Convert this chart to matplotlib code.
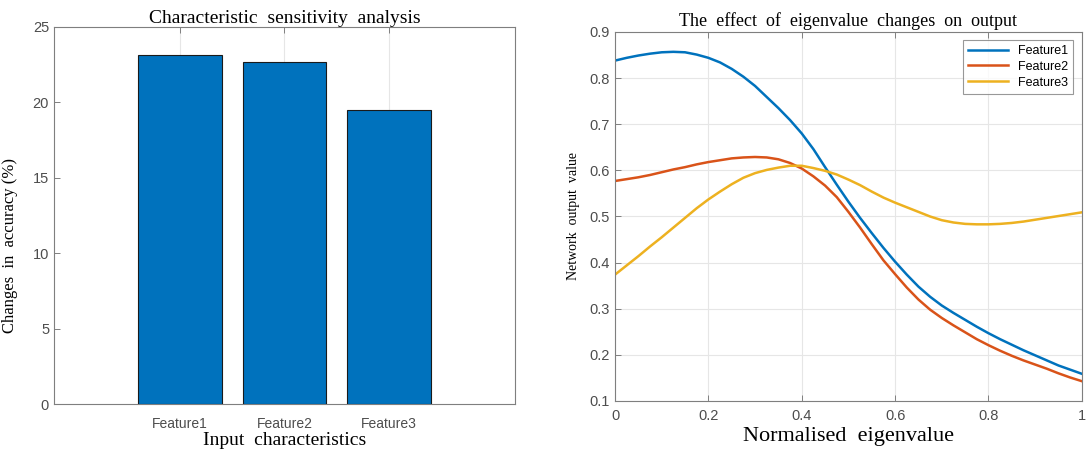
import matplotlib
matplotlib.use("Agg")
import matplotlib.pyplot as plt
import numpy as np

categories = ["Feature1", "Feature2", "Feature3"]
accuracy_change = [23.15, 22.68, 19.5]

x_vals = [0.0, 0.025, 0.05, 0.075, 0.1, 0.125, 0.15, 0.175, 0.2, 0.225, 0.25, 0.275, 0.3, 0.325,
          0.35, 0.375, 0.4, 0.425, 0.45, 0.475, 0.5, 0.525, 0.55, 0.575, 0.6, 0.625, 0.65, 0.675,
          0.7, 0.725, 0.75, 0.775, 0.8, 0.825, 0.85, 0.875, 0.9, 0.925, 0.95, 0.975, 1.0]
feature1 = [0.838, 0.844, 0.849, 0.853, 0.856, 0.857, 0.856, 0.851, 0.844, 0.834, 0.820, 0.803, 0.783, 0.759,
            0.735, 0.709, 0.680, 0.646, 0.607, 0.569, 0.532, 0.497, 0.464, 0.432, 0.402, 0.374, 0.348, 0.326,
            0.307, 0.291, 0.276, 0.261, 0.247, 0.234, 0.222, 0.210, 0.199, 0.188, 0.177, 0.168, 0.159]
feature2 = [0.577, 0.581, 0.585, 0.590, 0.596, 0.602, 0.607, 0.613, 0.618, 0.622, 0.626, 0.628, 0.629, 0.628,
            0.624, 0.616, 0.604, 0.587, 0.567, 0.542, 0.510, 0.476, 0.440, 0.405, 0.375, 0.346, 0.320, 0.298,
            0.280, 0.264, 0.249, 0.234, 0.221, 0.209, 0.198, 0.188, 0.179, 0.170, 0.160, 0.151, 0.143]
feature3 = [0.374, 0.394, 0.414, 0.435, 0.455, 0.476, 0.497, 0.518, 0.537, 0.554, 0.570, 0.584, 0.594, 0.601,
            0.606, 0.610, 0.610, 0.605, 0.599, 0.591, 0.580, 0.568, 0.554, 0.541, 0.530, 0.520, 0.510, 0.500,
            0.492, 0.487, 0.484, 0.483, 0.483, 0.484, 0.486, 0.489, 0.493, 0.497, 0.501, 0.505, 0.509]

serif = ["Liberation Serif", "DejaVu Serif"]
sans = ["Liberation Sans", "DejaVu Sans"]
plt.rcParams["font.family"] = sans
tick_col = "#4d4d4d"
spine_col = "#7f7f7f"
grid_col = "#e6e6e6"

fig = plt.figure(figsize=(10.88, 4.5), dpi=100)

# Left: bar chart
ax1 = fig.add_axes([0.0496, 0.1022, 0.4237, 0.838])
pos = np.arange(1, len(categories) + 1)
ax1.bar(pos, accuracy_change, width=0.8, color="#0072BD", edgecolor="#1a1a1a", linewidth=0.8, zorder=3)
ax1.set_xlim(-0.2, 4.2)
ax1.set_ylim(0, 25)
ax1.set_xticks(pos)
ax1.set_xticklabels(categories)
ax1.set_yticks([0, 5, 10, 15, 20, 25])
ax1.xaxis.grid(True, color=grid_col, linewidth=0.8, zorder=0)
ax1.set_title("Characteristic  sensitivity  analysis", fontfamily=serif, fontsize=14, pad=3)
ax1.set_xlabel("Input  characteristics", fontfamily=serif, fontsize=14)
ax1.xaxis.set_label_coords(0.5, -0.075)
ax1.set_ylabel("Changes  in  accuracy (%)", fontfamily=serif, fontsize=12)
ax1.yaxis.set_label_coords(-0.078, 0.42)

# Right: line chart
ax2 = fig.add_axes([0.5653, 0.1089, 0.429, 0.82])
ax2.plot(x_vals, feature1, color="#0072BD", linewidth=1.8, label="Feature1")
ax2.plot(x_vals, feature2, color="#D95319", linewidth=1.8, label="Feature2")
ax2.plot(x_vals, feature3, color="#EDB120", linewidth=1.8, label="Feature3")
ax2.set_xlim(0, 1)
ax2.set_ylim(0.1, 0.9)
ax2.set_xticks([0, 0.2, 0.4, 0.6, 0.8, 1])
ax2.set_xticklabels(["0", "0.2", "0.4", "0.6", "0.8", "1"])
ax2.set_yticks([0.1, 0.2, 0.3, 0.4, 0.5, 0.6, 0.7, 0.8, 0.9])
ax2.grid(True, color=grid_col, linewidth=0.8)
ax2.set_axisbelow(True)
ax2.set_title("The  effect  of  eigenvalue  changes  on  output", fontfamily=serif, fontsize=13, pad=4)
ax2.set_xlabel("Normalised  eigenvalue", fontfamily=serif, fontsize=16)
ax2.xaxis.set_label_coords(0.5, -0.07)
ax2.set_ylabel("Network  output  value", fontfamily=serif, fontsize=10)
ax2.yaxis.set_label_coords(-0.075, 0.5)
leg = ax2.legend(loc="upper right", fontsize=9, frameon=True, fancybox=False,
                 handlelength=3.2, borderpad=0.4, labelspacing=0.3, bbox_to_anchor=(0.995, 0.995))
leg.get_frame().set_edgecolor("#7f7f7f")
leg.get_frame().set_linewidth(0.8)

for ax in (ax1, ax2):
    for s in ax.spines.values():
        s.set_color(spine_col)
        s.set_linewidth(0.8)
    ax.tick_params(direction="in", length=4, width=0.7, color=spine_col, labelcolor=tick_col,
                   labelsize=10.5, top=True, right=False)
ax1.tick_params(axis="x", pad=9, labelsize=10)
ax2.tick_params(axis="x", pad=6)

fig.savefig("out.png", dpi=100)
